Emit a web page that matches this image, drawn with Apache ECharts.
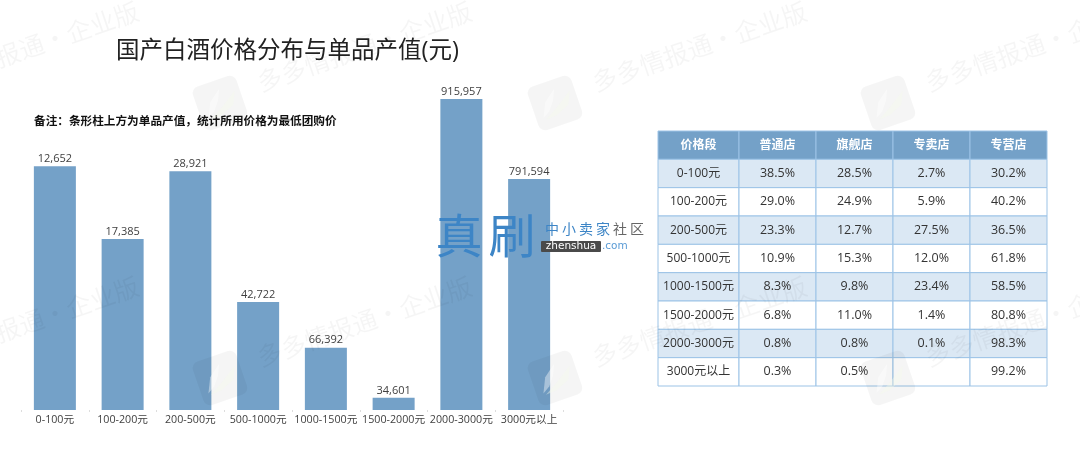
<!DOCTYPE html>
<html><head><meta charset="utf-8">
<style>html,body{margin:0;padding:0;background:#fff}#c{width:1080px;height:472px}</style>
<script src="https://cdn.jsdelivr.net/npm/echarts@6/dist/echarts.min.js"></script>
</head><body><div id="c"></div>
<script>
const categories = ['0-100元','100-200元','200-500元','500-1000元','1000-1500元','1500-2000元','2000-3000元','3000元以上'];
// bar heights (relative, tallest = 100; the source has no visible axis)
const barHeights = [78.4, 55.0, 76.8, 34.7, 20.0, 3.9, 100, 74.3];
// numbers printed above the bars
const unitOutput = [12652, 17385, 28921, 42722, 66392, 34601, 915957, 791594];
const tableHeader = ['价格段','普通店','旗舰店','专卖店','专营店'];
const normalStore = [38.5, 29.0, 23.3, 10.9, 8.3, 6.8, 0.8, 0.3];
const flagshipStore = [28.5, 24.9, 12.7, 15.3, 9.8, 11.0, 0.8, 0.5];
const specialtyStore = [2.7, 5.9, 27.5, 12.0, 23.4, 1.4, 0.1, null];
const franchiseStore = [30.2, 40.2, 36.5, 61.8, 58.5, 80.8, 98.3, 99.2];
const titleText = '国产白酒价格分布与单品产值(元)';
const noteText = '备注：条形柱上方为单品产值，统计所用价格为最低团购价';

const FONT = '"Open Sans","Noto Sans CJK SC",sans-serif';
const BAR = '#74A1C8', ZEBRA = '#DBE8F4', LINE = '#9CC3E6';
const rowNames = ['header'].concat(categories);
const columns = [normalStore, flagshipStore, specialtyStore, franchiseStore];

function cellText(col, row) {
  if (row === 0) return tableHeader[col];
  if (col === 0) return categories[row - 1];
  const v = columns[col - 1][row - 1];
  return v == null ? '' : v.toFixed(1) + '%';
}
function tableRender(firstCol) {
  return function (params, api) {
    const xi = api.value(0), row = api.value(1);
    const col = firstCol ? 0 : xi + 1;
    const c = api.coord([xi, row]), s = api.size([1, 1]);
    const fill = row === 0 ? BAR : (row % 2 === 1 ? ZEBRA : '#fff');
    return {
      type: 'rect',
      shape: { x: c[0] - s[0] / 2, y: c[1] - s[1] / 2, width: s[0], height: s[1] },
      style: { fill: fill, stroke: LINE, lineWidth: 1 },
      textContent: { type: 'text', style: {
        text: cellText(col, row), fill: row === 0 ? '#fff' : '#333',
        fontFamily: FONT, fontSize: (row === 0 || col === 0) ? 12 : 12.5, fontWeight: row === 0 ? 'bold' : 'normal'
      }},
      textConfig: { position: 'inside' }
    };
  };
}
const firstData = [], restData = [];
rowNames.forEach((_, r) => {
  firstData.push([0, r]);
  columns.forEach((_, c) => restData.push([c, r]));
});

// watermarks
const wmGraphics = [];
const tileX = [-113, 220, 555, 888], tileY = [103, 378];
tileY.forEach(y => tileX.forEach(x => {
  wmGraphics.push({ type: 'text', x: x + 38, y: y - 20, rotation: 0.33, z: 50, silent: true,
    style: { text: '多多情报通·企业版', fontFamily: '"Noto Sans CJK SC"', fontSize: 25,
      fill: 'rgba(0,0,0,0.04)', verticalAlign: 'middle', align: 'left' } });
  wmGraphics.push({ type: 'group', x: x, y: y, rotation: 0.33, z: 50, silent: true, children: [
    { type: 'rect', shape: { x: -23, y: -23, width: 46, height: 46, r: 7 }, z: 50, style: { fill: 'rgba(0,0,0,0.04)' } },
    { type: 'polygon', shape: { points: [[-16,11],[-9,-4],[4,-14],[-1,-3],[-8,6]] }, z: 51, style: { fill: 'rgba(255,255,255,0.4)' } },
    { type: 'polygon', shape: { points: [[-14,13],[0,5],[18,-7],[12,6],[-2,12]] }, z: 51, style: { fill: 'rgba(245,250,235,0.4)' } }
  ]});
}));
const brandChars = ['中','小','卖','家','社','区'];
const brand = [
  { type:'text', x:459, y:235, z:60, silent:true, style:{ text:'真', fontFamily:'"Noto Sans CJK SC"', fontSize:47, fill:'#3D85C6', align:'center', verticalAlign:'middle' } },
  { type:'text', x:512, y:235, z:60, silent:true, style:{ text:'刷', fontFamily:'"Noto Sans CJK SC"', fontSize:47, fill:'#3D85C6', align:'center', verticalAlign:'middle' } },
  { type:'rect', z:60, silent:true, shape:{ x:541, y:241, width:60, height:11, r:1 }, style:{ fill:'#4a4a4a' } },
  { type:'text', x:571, y:246.5, z:61, silent:true, style:{ text:'zhenshua', fontFamily:'"DejaVu Sans"', fontSize:10.5, fill:'#fff', align:'center', verticalAlign:'middle' } },
  { type:'text', x:602, y:246.5, z:61, silent:true, style:{ text:'.com', fontFamily:'"DejaVu Sans"', fontSize:10.5, fill:'#5a9bd5', verticalAlign:'middle' } }
].concat(brandChars.map((ch, i) => ({
  type:'text', x:545 + i * 17, y:229, z:60, silent:true,
  style:{ text:ch, fontFamily:'"Noto Sans CJK SC"', fontSize:14, fill: i < 4 ? '#3D85C6' : '#666', verticalAlign:'middle' }
})));

const chart = echarts.init(document.getElementById('c'), null, { renderer: 'canvas' });
chart.setOption({
  animation: false,
  backgroundColor: '#fff',
  title: [
    { text: titleText, left: 111, top: 35, textStyle: { fontFamily: FONT, fontSize: 23.5, fontWeight: 'normal', color: '#222' } },
    { text: noteText, left: 29, top: 111, textStyle: { fontFamily: FONT, fontSize: 11.65, fontWeight: 'bold', color: '#111' } }
  ],
  grid: [
    { left: 21, top: 99, width: 542, height: 311 },
    { left: 658, top: 131, width: 81, height: 255 },
    { left: 739, top: 131, width: 308, height: 255 }
  ],
  xAxis: [
    { gridIndex: 0, type: 'category', data: categories,
      axisLine: { show: false }, axisTick: { show: true, length: 2, lineStyle: { color: '#ddd' } },
      axisLabel: { interval: 0, fontFamily: FONT, fontSize: 10.7, color: '#404040', margin: 5 } },
    { gridIndex: 1, type: 'category', data: [tableHeader[0]], show: false },
    { gridIndex: 2, type: 'category', data: tableHeader.slice(1), show: false }
  ],
  yAxis: [
    { gridIndex: 0, type: 'value', min: 0, max: 100, show: false },
    { gridIndex: 1, type: 'category', data: rowNames, inverse: true, show: false },
    { gridIndex: 2, type: 'category', data: rowNames, inverse: true, show: false }
  ],
  series: [
    { type: 'bar', xAxisIndex: 0, yAxisIndex: 0, data: barHeights, barWidth: '62%',
      itemStyle: { color: BAR },
      label: { show: true, position: 'top', distance: 2, fontFamily: FONT, fontSize: 11, color: '#404040',
        formatter: p => unitOutput[p.dataIndex].toLocaleString('en-US') } },
    { type: 'custom', xAxisIndex: 1, yAxisIndex: 1, data: firstData, renderItem: tableRender(true), silent: true, clip: false },
    { type: 'custom', xAxisIndex: 2, yAxisIndex: 2, data: restData, renderItem: tableRender(false), silent: true, clip: false }
  ],
  graphic: { elements: wmGraphics.concat(brand) }
});
</script></body></html>
